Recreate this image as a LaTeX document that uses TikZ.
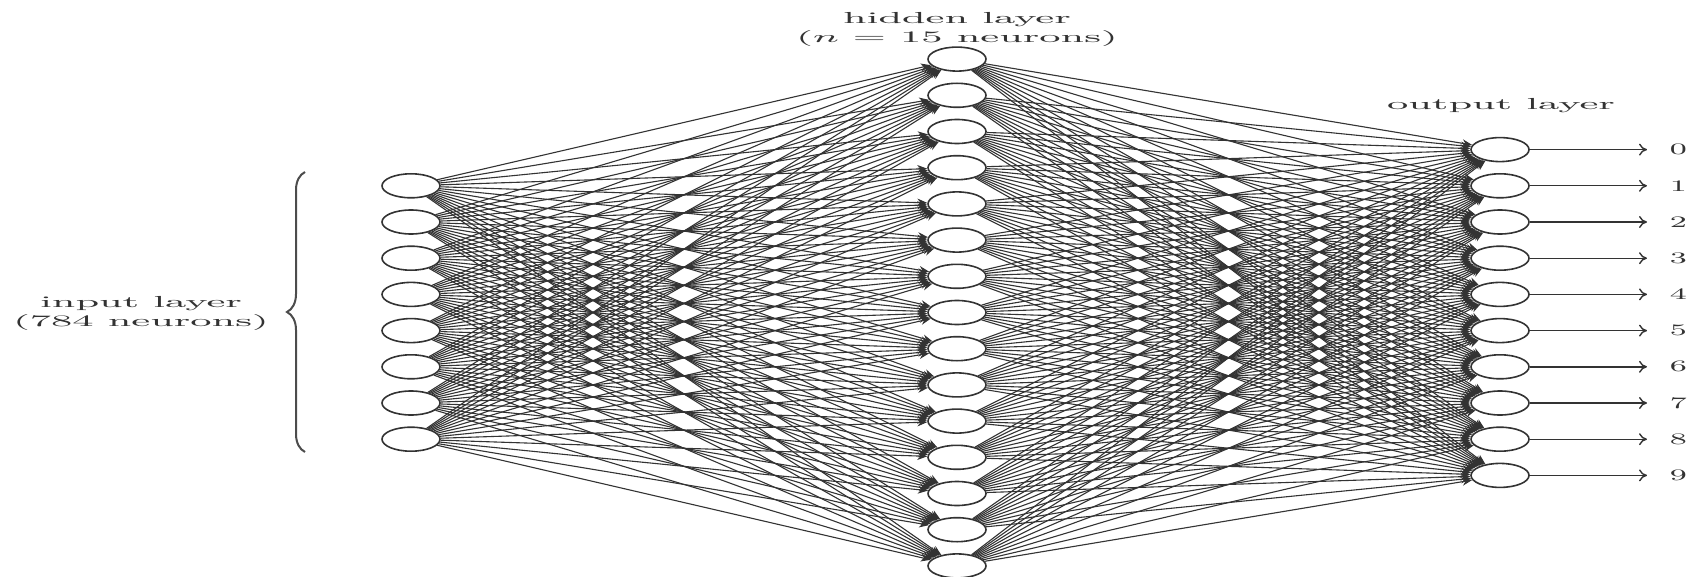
\documentclass[tikz,border=0pt]{standalone}
\usetikzlibrary{shapes.geometric,arrows.meta,decorations.pathreplacing}
\begin{document}
\begin{tikzpicture}[x=0.5pt,y=-0.5pt,
  neuron/.style={ellipse,draw=black!80,line width=0.8pt,minimum width=29pt,minimum height=12pt,inner sep=0pt},
  conn/.style={draw=black!80,line width=0.55pt,-{Stealth[length=5pt,width=4pt]}},
  outarrow/.style={draw=black!80,line width=0.7pt,-{To[length=4pt,width=6pt]}},
  lbl/.style={font=\footnotesize,xscale=2.5,align=center,text=black!80,inner sep=0pt},
  digit/.style={font=\footnotesize,xscale=2,text=black!80,inner sep=0pt,anchor=west}]
\useasboundingbox (0,0) rectangle (1690,577);
% input layer
\foreach \i in {1,...,8}
  \node[neuron] (I\i) at (411,{312.5+(\i-4.5)*36.2}) {};
% hidden layer
\foreach \j in {1,...,15}
  \node[neuron] (H\j) at (957,{312.5+(\j-8)*36.2}) {};
% output layer
\foreach \k [evaluate=\k as \d using int(\k-1)] in {1,...,10} {
  \node[neuron] (O\k) at (1500,{312.5+(\k-5.5)*36.2}) {};
  \node[digit] (D\k) at (1669,{312.5+(\k-5.5)*36.2}) {\d};
}
% connections
\foreach \i in {1,...,8}
  \foreach \j in {1,...,15}
    \draw[conn] (I\i) -- (H\j);
\foreach \j in {1,...,15}
  \foreach \k in {1,...,10}
    \draw[conn] (H\j) -- (O\k);
\foreach \k in {1,...,10}
  \draw[outarrow,shorten >=11pt] (O\k) -- (D\k);
% labels
\node[lbl] (hl) at (957,29) {hidden layer\\($n$ = 15 neurons)};
\node[lbl] (ol) at (1501,106) {output layer};
\node[lbl] (il) at (141,313) {input layer\\(784 neurons)};
\draw[decorate,decoration={brace,amplitude=9pt},line width=1pt,draw=black!70] (305,452) -- (305,172);
\end{tikzpicture}
\end{document}
